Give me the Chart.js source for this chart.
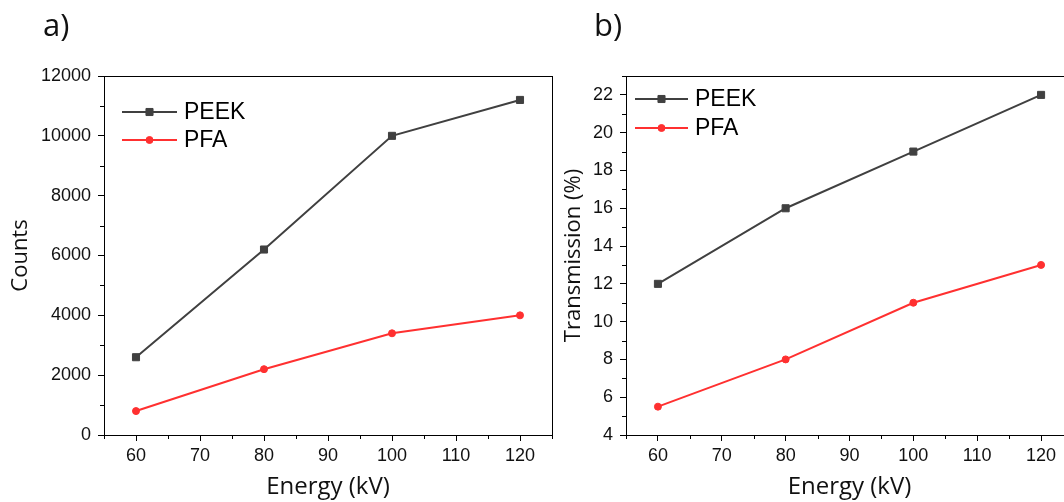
<!DOCTYPE html><html lang="en">
<head>
  <meta charset="UTF-8" />
  <title>PEEK / PFA vs Energy</title>
  <script src="https://cdn.jsdelivr.net/npm/chart.js"></script>
  <style>
    body { margin: 0; background: #fff; width: 1064px; height: 502px; overflow: hidden; position: relative; }
    canvas { position: absolute; top: 0; }
    #chartA { left: 0; }
    #chartB { left: 540px; }
    .tag { position: absolute; top: 9px; font-family: 'Open Sans', sans-serif; font-size: 31px; line-height: 31px; color: #111; }
  </style>
</head>
<body>
  <canvas id="chartA" width="560" height="502"></canvas>
  <canvas id="chartB" width="560" height="502"></canvas>
  <div class="tag" style="left:43px">a)</div>
  <div class="tag" style="left:594px">b)</div>
  <script>
    const energy = [60, 80, 100, 120];
    const peekCounts = [2600, 6200, 10000, 11200];
    const pfaCounts = [800, 2200, 3400, 4000];
    const peekTrans = [12, 16, 19, 22];
    const pfaTrans = [5.5, 8, 11, 13];
    const energyTicks = [60, 70, 80, 90, 100, 110, 120];
    const countTicks = [0, 2000, 4000, 6000, 8000, 10000, 12000];
    const transTicks = [4, 6, 8, 10, 12, 14, 16, 18, 20, 22];

    const GREY = '#404040', RED = '#ff3030';
    const tickFont = { family: "'Liberation Sans', Arial, sans-serif", size: 18 };

    // box round the plot area
    const framePlugin = {
      id: 'frame',
      afterDraw(chart) {
        const { ctx, chartArea: a } = chart;
        ctx.save();
        ctx.strokeStyle = '#000';
        ctx.lineWidth = 1;
        ctx.strokeRect(Math.round(a.left) + 0.5, Math.round(a.top) + 0.5,
          Math.round(a.right - a.left), Math.round(a.bottom - a.top));
        ctx.restore();
      }
    };

    // short ticks between the labelled ones
    const minorTicks = {
      id: 'minorTicks',
      afterDraw(chart, args, opts) {
        const { ctx } = chart;
        ctx.save();
        ctx.strokeStyle = '#000';
        ctx.lineWidth = 1;
        ctx.beginPath();
        for (const id of ['x', 'y']) {
          const s = chart.scales[id];
          const step = opts[id];
          for (let v = s.min; v <= s.max + 1e-9; v += step) {
            if (s.ticks.some(t => Math.abs(t.value - v) < 1e-9)) continue;
            const p = Math.round(s.getPixelForValue(v)) + 0.5;
            if (id === 'x') { ctx.moveTo(p, s.top); ctx.lineTo(p, s.top + 4); }
            else { ctx.moveTo(s.right, p); ctx.lineTo(s.right - 4, p); }
          }
        }
        ctx.stroke();
        ctx.restore();
      }
    };

    // legend drawn inside the plot, top left
    const innerLegend = {
      id: 'innerLegend',
      afterDraw(chart, args, o) {
        const { ctx, chartArea: a } = chart;
        chart.data.datasets.forEach((ds, i) => {
          const y = a.top + o.y + i * o.gap;
          const x0 = a.left + o.x, x1 = x0 + o.len, cx = (x0 + x1) / 2;
          ctx.save();
          ctx.strokeStyle = ds.borderColor;
          ctx.fillStyle = ds.borderColor;
          ctx.lineWidth = ds.borderWidth;
          ctx.beginPath();
          ctx.moveTo(x0, y);
          ctx.lineTo(x1, y);
          ctx.stroke();
          ctx.lineWidth = 1;
          ctx.beginPath();
          if (ds.pointStyle === 'rect') {
            const h = ds.pointRadius * Math.SQRT1_2;
            ctx.rect(cx - h, y - h, 2 * h, 2 * h);
          } else {
            ctx.arc(cx, y, ds.pointRadius, 0, Math.PI * 2);
          }
          ctx.fill();
          ctx.stroke();
          ctx.fillStyle = '#000';
          ctx.font = "23px 'Liberation Sans', Arial, sans-serif";
          ctx.textBaseline = 'middle';
          ctx.fillText(ds.label, x1 + 7, y + 1);
          ctx.restore();
        });
      }
    };

    function series(label, ys, color, style, r) {
      return {
        label: label,
        data: energy.map((e, i) => ({ x: e, y: ys[i] })),
        borderColor: color,
        backgroundColor: color,
        pointBackgroundColor: color,
        pointBorderColor: color,
        borderWidth: 2,
        pointStyle: style,
        pointRadius: r,
        pointBorderWidth: 1,
        tension: 0
      };
    }

    function makeChart(id, cfg) {
      new Chart(document.getElementById(id), {
        type: 'line',
        data: { datasets: [
          series('PEEK', cfg.peek, GREY, 'rect', 5),
          series('PFA', cfg.pfa, RED, 'circle', 3.5)
        ] },
        plugins: [framePlugin, minorTicks, innerLegend],
        options: {
          responsive: false,
          animation: false,
          devicePixelRatio: 1,
          layout: { padding: { left: 0, top: 76, right: cfg.padRight, bottom: 0 } },
          plugins: {
            legend: { display: false },
            tooltip: { enabled: false },
            minorTicks: { x: 10, y: cfg.minorY },
            innerLegend: cfg.legend
          },
          scales: {
            x: {
              type: 'linear',
              min: 55,
              max: 125,
              afterBuildTicks: s => { s.ticks = energyTicks.map(v => ({ value: v })); },
              afterFit: s => { s.height = 67; },
              grid: { drawOnChartArea: false, drawTicks: true, tickLength: 6, color: '#000' },
              border: { display: false },
              ticks: { font: tickFont, color: '#111', padding: 4, maxRotation: 0, callback: v => String(v) },
              title: {
                display: true,
                text: 'Energy (kV)',
                color: '#111',
                font: { family: "'Open Sans', sans-serif", size: 24 },
                padding: { top: 0, bottom: 0 }
              }
            },
            y: {
              min: cfg.yMin,
              max: cfg.yMax,
              afterBuildTicks: s => { s.ticks = cfg.yTicks.map(v => ({ value: v })); },
              afterFit: s => { s.width = cfg.left; },
              grid: { drawOnChartArea: false, drawTicks: true, tickLength: 6, color: '#000' },
              border: { display: false },
              ticks: { font: tickFont, color: '#111', padding: 7, callback: v => String(v) },
              title: {
                display: true,
                text: cfg.yTitle,
                color: '#111',
                font: { family: "'Open Sans', sans-serif", size: 22 },
                padding: { top: cfg.titlePad, bottom: 0 }
              }
            }
          }
        }
      });
    }

    makeChart('chartA', {
      peek: peekCounts, pfa: pfaCounts,
      yMin: 0, yMax: 12000, yTicks: countTicks, minorY: 1000,
      yTitle: 'Counts', left: 104, padRight: 8, titlePad: 8,
      legend: { x: 18, y: 36, gap: 28, len: 55 }
    });

    makeChart('chartB', {
      peek: peekTrans, pfa: pfaTrans,
      yMin: 4, yMax: 23, yTicks: transTicks, minorY: 1,
      yTitle: 'Transmission (%)', left: 86, padRight: 27, titlePad: 21,
      legend: { x: 9, y: 23, gap: 29, len: 53 }
    });
  </script>
</body>
</html>
